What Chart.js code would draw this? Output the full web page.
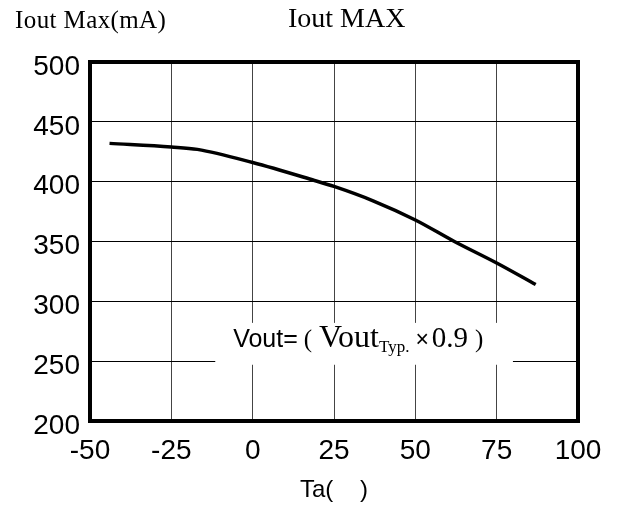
<!DOCTYPE html>
<html>
<head>
<meta charset="utf-8">
<script src="https://cdn.jsdelivr.net/npm/chart.js@4/dist/chart.umd.min.js"></script>
<style>
  html, body { margin: 0; background: #fff; }
  #wrap { width: 619px; height: 512px; }
</style>
</head>
<body>
<div id="wrap"><canvas id="chart"></canvas></div>
<script>
// data
const temps = [-44, -25, -17, 0, 19, 25, 37, 50, 62, 75, 87];
const ioutMax = [432, 429, 427, 416, 401, 396, 384, 368, 350, 332, 314];
const xTicks = [-50, -25, 0, 25, 50, 75, 100];
const yTicks = [200, 250, 300, 350, 400, 450, 500];

const yTitle = "Iout Max(mA)";
const chartTitle = "Iout MAX";
const xTitle = "Ta(    )";

const points = temps.map((t, i) => ({ x: t, y: ioutMax[i] }));

// white label box + frame + top texts
const extras = {
  id: "extras",
  beforeDatasetsDraw(chart) {
    const { ctx, scales: { x, y } } = chart;
    ctx.save();
    ctx.fillStyle = "#fff";
    const x0 = x.getPixelForValue(-11.5), x1 = x.getPixelForValue(80);
    const y0 = y.getPixelForValue(282), y1 = y.getPixelForValue(247);
    ctx.fillRect(x0, y0, x1 - x0, y1 - y0);
    ctx.restore();
  },
  afterDraw(chart) {
    const { ctx, chartArea: a, scales: { x, y } } = chart;
    ctx.save();
    // frame
    ctx.strokeStyle = "#000";
    ctx.lineWidth = 4;
    ctx.strokeRect(a.left, a.top, a.right - a.left, a.bottom - a.top);

    ctx.fillStyle = "#000";
    ctx.textBaseline = "alphabetic";
    ctx.textAlign = "left";
    ctx.font = '25px "Liberation Serif"';
    ctx.letterSpacing = "0.4px";
    ctx.fillText(yTitle, a.left - 75, a.top - 34);
    ctx.letterSpacing = "0px";
    ctx.font = '28px "Liberation Serif"';
    ctx.fillText(chartTitle, a.left + 198, a.top - 35);

    // Vout= ( Vout_Typ. x 0.9 )
    const parts = [
      { t: "Vout=", f: '25px "Liberation Sans"', dy: 0, gap: 6 },
      { t: "(", f: '25px "Liberation Serif"', dy: 0, gap: 7 },
      { t: "Vout", f: '32px "Liberation Serif"', dy: 0, gap: 0 },
      { t: "Typ.", f: '17px "Liberation Serif"', dy: 5, gap: 6 },
      { t: "\u00d7", f: '23px "Liberation Sans"', dy: 0, gap: 3 },
      { t: "0.9", f: '29px "Liberation Serif"', dy: 0, gap: 7 },
      { t: ")", f: '25px "Liberation Serif"', dy: 0, gap: 0 }
    ];
    let cx = x.getPixelForValue(-6);
    const base = y.getPixelForValue(262);
    parts.forEach(p => {
      ctx.font = p.f;
      ctx.fillText(p.t, cx, base + p.dy);
      cx += ctx.measureText(p.t).width + p.gap;
    });
    ctx.restore();
  }
};

new Chart(document.getElementById("chart"), {
  type: "line",
  data: {
    datasets: [
      {
        label: yTitle,
        data: points,
        borderColor: "#000",
        borderWidth: 3.5,
        pointRadius: 0,
        cubicInterpolationMode: "monotone",
        fill: false
      }
    ]
  },
  options: {
    responsive: true,
    maintainAspectRatio: false,
    animation: false,
    layout: { padding: { top: 62, right: 41, left: 0, bottom: 0 } },
    plugins: {
      legend: { display: false },
      tooltip: { enabled: false }
    },
    scales: {
      x: {
        type: "linear",
        min: -50,
        max: 100,
        afterBuildTicks: (s) => { s.ticks = xTicks.map(v => ({ value: v })); },
        afterFit: (s) => { s.height = 91; },
        border: { display: false },
        grid: { color: "#444", lineWidth: 1, drawTicks: false },
        ticks: {
          color: "#000",
          padding: 13,
          maxRotation: 0,
          font: { family: "Liberation Sans", size: 28 }
        },
        title: {
          display: true,
          text: xTitle,
          color: "#000",
          padding: { top: 0, bottom: 7 },
          font: { family: "Liberation Sans", size: 24 }
        }
      },
      y: {
        min: 200,
        max: 500,
        afterBuildTicks: (s) => { s.ticks = yTicks.map(v => ({ value: v })); },
        afterFit: (s) => { s.width = 90; },
        border: { display: false },
        grid: { color: "#000", lineWidth: 1, drawTicks: false },
        ticks: {
          color: "#000",
          padding: 10,
          labelOffset: 5,
          font: { family: "Liberation Sans", size: 28 }
        }
      }
    }
  },
  plugins: [extras]
});
</script>
</body>
</html>
